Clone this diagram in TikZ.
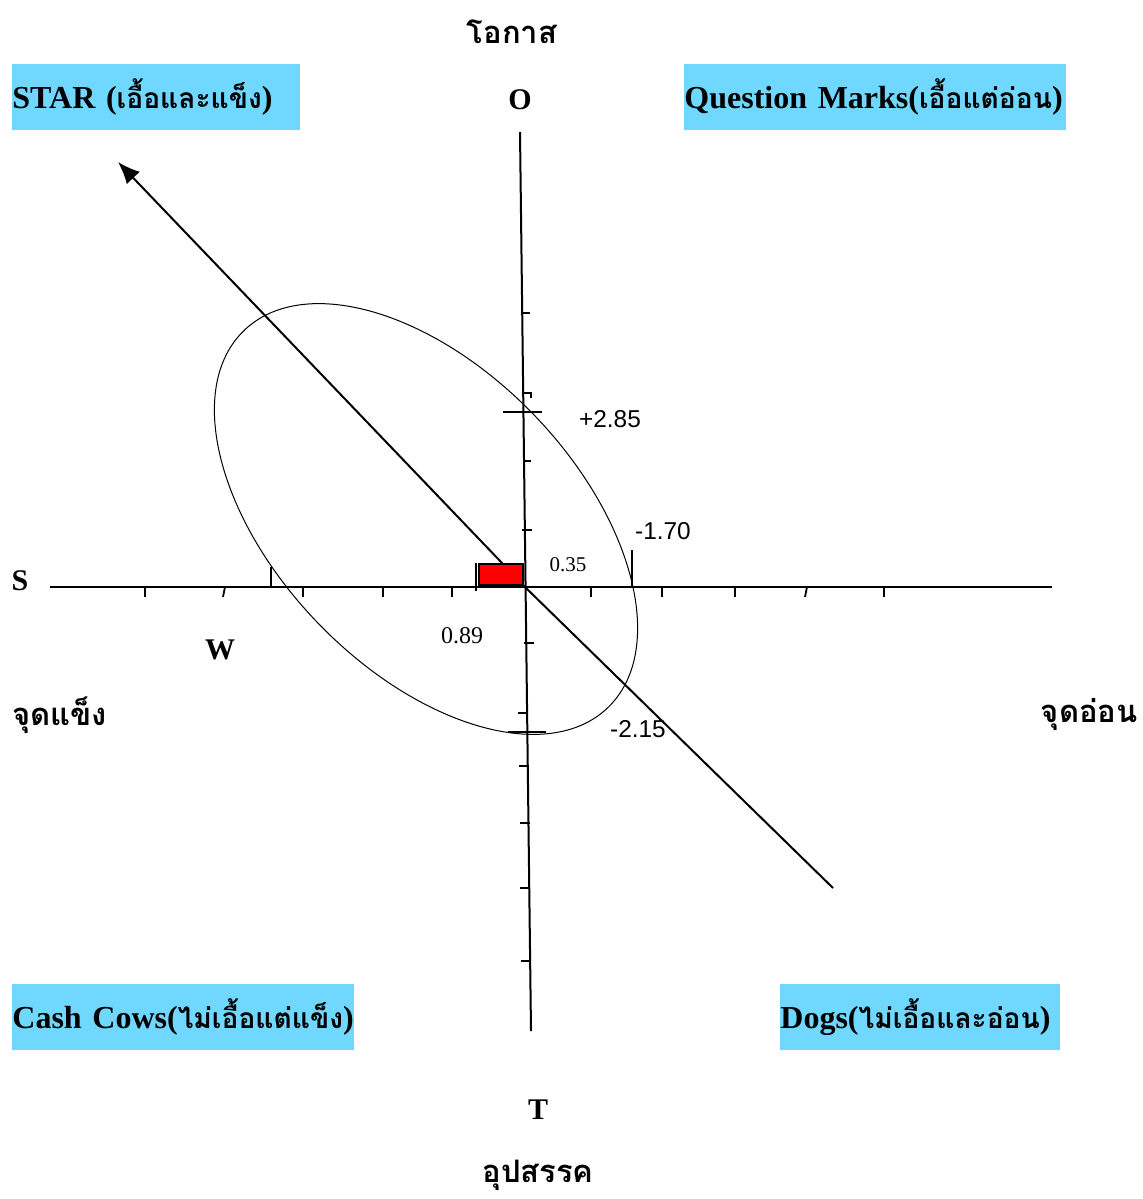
\documentclass[tikz,border=0pt]{standalone}
\usepackage{fontspec}
\setmainfont{Liberation Serif}
\newfontfamily\thaifont[Script=Thai]{Loma}
\newfontfamily\thaibox[Script=Thai,Scale=0.88]{Loma}
\newfontfamily\numfont{Liberation Sans}
\usepackage{xcolor}
\usepackage{tikz}
\usetikzlibrary{arrows.meta,calc}
\definecolor{quadcyan}{RGB}{112,216,255}
\newcommand{\thb}[1]{{\thaibox\bfseries #1}}

\begin{document}
\begin{tikzpicture}[x=0.5pt,y=-0.5pt,
  quad/.style={fill=quadcyan, inner xsep=0pt, inner ysep=0pt, minimum height=33pt, anchor=north west, align=left, font=\fontsize{16}{18}\selectfont\bfseries},
  letter/.style={font=\fontsize{15}{18}\selectfont\bfseries},
  thlabel/.style={font=\fontsize{15.5}{20}\selectfont\thaifont\bfseries},
  axis/.style={line width=1pt},
  tick/.style={line width=0.9pt},
  val/.style={font=\fontsize{12.2}{14}\selectfont\numfont},
  serifval/.style={font=\fontsize{12}{14}\selectfont}
]
\useasboundingbox (0,0) rectangle (1143,1199);

% Quadrant boxes
\node[quad, text width=144pt] (star) at (12,64) {\mbox{STAR (\thb{เอื้อและแข็ง})}};
\node[quad, text width=191pt] (qmark) at (684,64) {\mbox{Question Marks(\thb{เอื้อแต่อ่อน})}};
\node[quad, text width=171pt] (cow) at (12,984) {\mbox{Cash Cows(\thb{ไม่เอื้อแต่แข็ง})}};
\node[quad, text width=140pt] (dog) at (780,984) {\mbox{Dogs(\thb{ไม่เอื้อและอ่อน})}};

% Axis labels
\node[thlabel] (opp) at (512,32) {โอกาส};
\node[letter] (o) at (520,100) {O};
\node[letter] (s) at (20,581) {S};
\node[letter] (w) at (220,650) {W};
\node[thlabel, anchor=west, inner sep=0pt] (strong) at (12,715) {จุดแข็ง};
\node[thlabel, anchor=east, inner sep=0pt] (weak) at (1138,715) {จุดอ่อน};
\node[letter] (t) at (538,1110) {T};
\node[thlabel] (threat) at (538,1175) {อุปสรรค};

% Axes
\coordinate (otop) at (520,132);
\coordinate (tbot) at (531,1031);
\coordinate (sleft) at (50,587);
\coordinate (wright) at (1052,587);
\draw[axis] (otop) -- (tbot);
\draw[axis] (sleft) -- (wright);

% Ticks on the S-W axis
\foreach \tx/\sl in {145/0,225/-2,303/0,383/0,452/0,591/0,662/0,735/0,807/-2,884/0}
  \draw[tick] (\tx,587) -- (\tx+\sl,597);
\draw[tick] (271,567) -- (271,587);
\draw[tick] (632,550) -- (632,587);

% Ticks on the O-T axis
\foreach \ty/\dl/\dr in {313/0/8,461/0/7,530/-2/8,643/-2/8,713/-8/2,766/-8/2,823/-8/2,888/-8/2,961/-8/2}
  \draw[tick] ({520+(\ty-132)/89.9+\dl},\ty) -- ({520+(\ty-132)/89.9+\dr},\ty);
\draw[tick] (523,393) -- (531,393) -- (531,398);
\draw[tick] (503,412) -- (542,412);
\draw[tick] (508,732) -- (546,732);

% Ellipse
\coordinate (ec) at (426,519);
\draw[line width=0.5pt, rotate around={-46:(ec)}] (ec) ellipse [x radius=262, y radius=150];

% Diagonal
\coordinate (org) at (525,587);
\coordinate (tip) at (118,162);
\coordinate (tail) at (833,888);
\draw[axis, -{Latex[length=11pt,width=9pt]}] (org) -- (tip);
\draw[axis] (org) -- (tail);

% Position marker
\node[draw, line width=1pt, fill=red, minimum width=22pt, minimum height=10.5pt, inner sep=0pt, anchor=south west] (pos) at (478,586) {};
\draw[line width=1.4pt] (476,563) -- (476,591);

% Values
\node[val] (v285) at (610,419) {+2.85};
\node[val] (v170) at (663,531) {-1.70};
\node[val] (v215) at (638,729) {-2.15};
\node[serifval] (v089) at (462,636) {0.89};
\node[serifval, font=\fontsize{10.5}{12}\selectfont] (v035) at (568,565) {0.35};
\end{tikzpicture}
\end{document}
